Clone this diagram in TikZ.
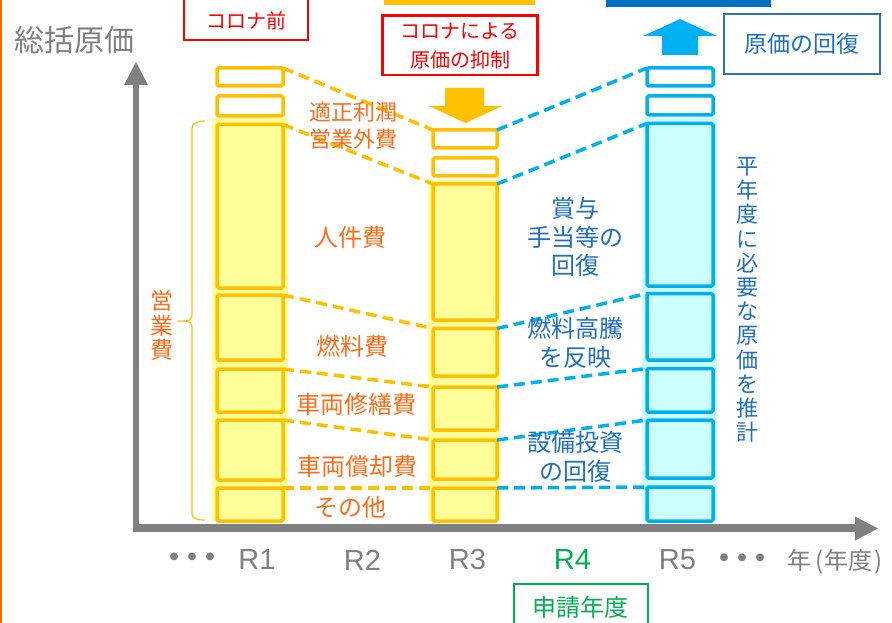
\documentclass[tikz,border=0pt]{standalone}
\usepackage{fontspec}
\setmainfont{Noto Sans CJK JP}
\newfontfamily\latinf{Liberation Sans}
\usetikzlibrary{arrows.meta}
\definecolor{ygold}{HTML}{FFC000}
\definecolor{yfill}{HTML}{FFFF99}
\definecolor{cblue}{HTML}{00B0F0}
\definecolor{cfill}{HTML}{CCFFFF}
\definecolor{lorng}{HTML}{FF6D1A}
\definecolor{dblue}{HTML}{1F70C1}
\definecolor{axgray}{HTML}{808080}
\definecolor{grn}{HTML}{00B050}
\definecolor{edgeor}{HTML}{FF6600}
\definecolor{boxblue}{HTML}{2E75B6}
\definecolor{topblue}{HTML}{0070C0}
\newcommand{\fsz}[2]{\fontsize{#1}{#2}\selectfont}
\newcommand{\tridots}{・\hspace{-10pt}・\hspace{-10pt}・}
\begin{document}
\begin{tikzpicture}[x=1pt,y=-1pt,
  bx/.style={line width=3.5pt, rounded corners=1.5pt, inner sep=0pt, outer sep=0pt, anchor=north west},
  yb/.style={bx, draw=ygold, fill=yfill},
  yw/.style={bx, draw=ygold, fill=white},
  cb/.style={bx, draw=cblue, fill=cfill},
  cw/.style={bx, draw=cblue, fill=white},
  ydash/.style={draw=ygold, line width=3.5pt, dash pattern=on 11pt off 6pt},
  cdash/.style={draw=cblue, line width=3.5pt, dash pattern=on 11pt off 6pt},
  olab/.style={text=lorng, font=\fsz{24}{26.5}, align=center, inner sep=0pt},
  blab/.style={text=dblue, font=\fsz{24}{28.5}, align=center, inner sep=0pt},
  rlab/.style={text=axgray, font=\latinf\fsz{29}{30}, inner sep=0pt},
  redbox/.style={draw=red, line width=2.5pt, inner sep=0pt},
  dotlab/.style={text=axgray, font=\bfseries\fsz{28}{28}, inner sep=0pt},
]
\useasboundingbox (0,0) rectangle (892,623);
\clip (0,0) rectangle (892,623);

% left edge line
\draw[edgeor, line width=2.4pt] (1.2,0) -- (1.2,623);

% axes
\coordinate (O) at (136,527.5);
\coordinate (Ytop) at (136,84);
\coordinate (Xend) at (856,527.5);
\draw[axgray, line width=6.5pt] (136,531) -- (Ytop);
\fill[axgray] (124,85) -- (136,62) -- (148,85) -- cycle;
\draw[axgray, line width=8pt] (132.75,527.5) -- (Xend);
\fill[axgray] (855,516.5) -- (878,528.5) -- (855,540.5) -- cycle;
\node[text=axgray, font=\fsz{30}{30}, inner sep=0pt] (ylab) at (75,40) {総括原価};

% light background strips
\fill[yfill] (212,118) rectangle (288,521);
\fill[yfill] (428,180) rectangle (500,521);
\fill[cfill] (642,118) rectangle (717,521);

% R1 bar
\node[yw, minimum width=66pt, minimum height=18pt] (a1) at (217,68) {};
\node[yw, minimum width=66pt, minimum height=20pt] (a2) at (217,96) {};
\node[yb, minimum width=66pt, minimum height=163.5pt] (a3) at (217,124.5) {};
\node[yb, minimum width=66pt, minimum height=65pt] (a4) at (217,295) {};
\node[yb, minimum width=66pt, minimum height=43pt] (a5) at (217,369) {};
\node[yb, minimum width=66pt, minimum height=60pt] (a6) at (217,420) {};
\node[yb, minimum width=66pt, minimum height=33pt] (a7) at (217,488) {};

% R3 bar
\node[yw, minimum width=64pt, minimum height=18pt] (b1) at (433,130) {};
\node[yw, minimum width=64pt, minimum height=18pt] (b2) at (433,158) {};
\node[yb, minimum width=64pt, minimum height=136pt] (b3) at (433,184) {};
\node[yb, minimum width=64pt, minimum height=47.5pt] (b4) at (433,328.5) {};
\node[yb, minimum width=64pt, minimum height=43pt] (b5) at (433,387) {};
\node[yb, minimum width=64pt, minimum height=39pt] (b6) at (433,440) {};
\node[yb, minimum width=64pt, minimum height=33pt] (b7) at (433,488) {};

% R5 bar
\node[cw, minimum width=66pt, minimum height=18pt] (c1) at (647,68) {};
\node[cw, minimum width=66pt, minimum height=19pt] (c2) at (647,96) {};
\node[cb, minimum width=66pt, minimum height=162.5pt] (c3) at (647,123.5) {};
\node[cb, minimum width=66pt, minimum height=66.5pt] (c4) at (647,293.5) {};
\node[cb, minimum width=66pt, minimum height=43.5pt] (c5) at (647,368.5) {};
\node[cb, minimum width=66pt, minimum height=58pt] (c6) at (647,420) {};
\node[cb, minimum width=66pt, minimum height=34pt] (c7) at (647,487) {};

% dashed connectors
\foreach \i in {1,3,4,5,6,7}{
  \draw[ydash] (a\i.north east) -- (b\i.north west);
  \draw[cdash] (b\i.north east) -- (c\i.north west);
}

% brace
\draw[ygold, line width=1.2pt] (205,121) to[out=180,in=90] (192,128) -- (192,315) to[out=270,in=0] (186,321) -- (178,321);
\draw[ygold, line width=1.2pt] (186,321) to[out=0,in=90] (192,327) -- (192,514) to[out=270,in=180] (205,520);
\node[olab, font=\fsz{23}{24.5}] (eigyo) at (161.5,325.5) {営\\業\\費};

% orange labels
\node[olab, font=\fsz{22}{26.5}] (l1) at (353,125.5) {適正利潤\\営業外費};
\node[olab] (l2) at (350,237) {人件費};
\node[olab] (l3) at (352,346) {燃料費};
\node[olab] (l4) at (356,404) {車両修繕費};
\node[olab] (l5) at (357.5,466) {車両償却費};
\node[olab] (l6) at (350,507) {その他};

% blue labels
\node[blab] (m1) at (575,237) {賞与\\手当等の\\回復};
\node[blab] (m2) at (575,343) {燃料高騰\\を反映};
\node[blab] (m3) at (575,457) {設備投資\\の回復};
\node[blab, font=\fsz{22}{24.2}] (vt) at (747,300) {平\\年\\度\\に\\必\\要\\な\\原\\価\\を\\推\\計};

% top: コロナ前
\draw[red, line width=2.5pt] (184,-10) rectangle (308,40);
\node[text=red, font=\fsz{20}{20}, inner sep=0pt] (pre) at (246,21) {コロナ前};

% top: コロナによる原価の抑制
\fill[ygold] (384,-2) rectangle (535,5);
\node[redbox, minimum width=155pt, minimum height=59.5pt, text=red, font=\fsz{20}{29}, align=center] (sup) at (460,45.5) {コロナによる\\原価の抑制};
\fill[ygold] (445,88) -- (484,88) -- (484,106) -- (502,106) -- (465.5,123) -- (429,106) -- (445,106) -- cycle;

% top: 原価の回復
\fill[topblue] (606,-2) rectangle (771,7);
\fill[cblue] (662,55) -- (662,36) -- (643,36) -- (680,19) -- (717,36) -- (698,36) -- (698,55) -- cycle;
\node[draw=boxblue, line width=2.5pt, minimum width=156pt, minimum height=60pt, text=dblue, font=\fsz{23}{23}, inner sep=0pt] (rec) at (802,44) {原価の回復};

% x-axis labels
\node[dotlab] (d1) at (192.5,560) {\tridots};
\node[rlab] (r1) at (257,560) {R1};
\node[rlab] (r2) at (362.5,560) {R2};
\node[rlab] (r3) at (467.5,560) {R3};
\node[rlab, text=grn] (r4) at (572.5,560) {R4};
\node[rlab] (r5) at (677.5,560) {R5};
\node[dotlab] (d2) at (742.5,561.5) {\tridots};
\node[text=axgray, font=\fsz{24}{24}, inner sep=0pt, anchor=west] (nen) at (787,562) {年\hspace{4pt}(\hspace{1pt}年度\hspace{2pt})};

% 申請年度
\draw[grn, line width=1.8pt] (514,584) rectangle (648,640);
\node[text=grn, font=\fsz{24}{24}, inner sep=0pt] (shinsei) at (580,607) {申請年度};
\end{tikzpicture}
\end{document}
